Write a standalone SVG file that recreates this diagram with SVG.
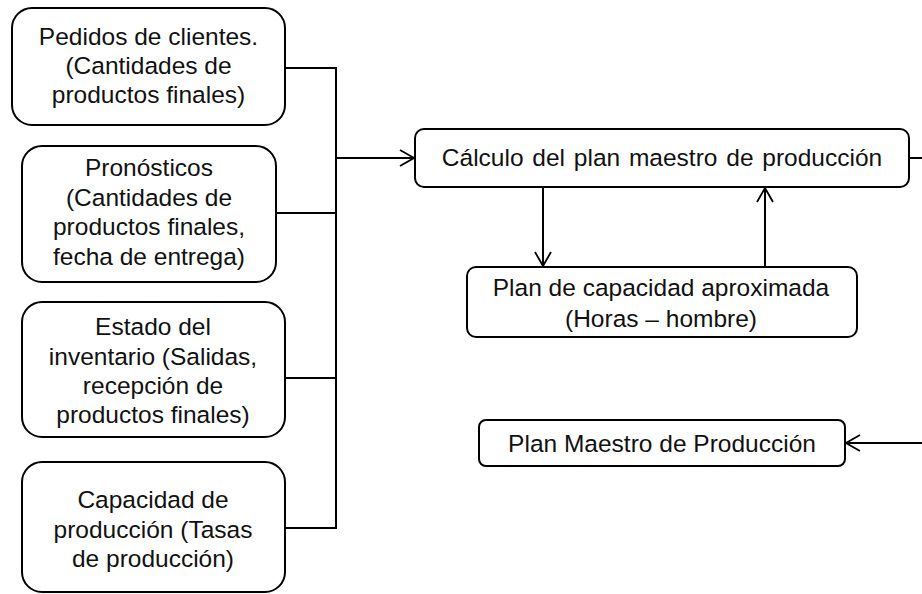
<svg xmlns="http://www.w3.org/2000/svg" width="922" height="594" viewBox="0 0 922 594">
<style>
.box{fill:#fff;stroke:#000;stroke-width:2}
.t{font-family:"Liberation Sans",Arial,sans-serif;font-size:24.5px;fill:#111;text-anchor:middle}
.c{fill:none;stroke:#000;stroke-width:2}
</style>
<defs>
<marker id="arr" viewBox="0 0 16 18" refX="15" refY="9" markerWidth="16" markerHeight="18" orient="auto" markerUnits="userSpaceOnUse">
<path d="M1,1 L15,9 L1,17" fill="none" stroke="#000" stroke-width="1.8"/>
</marker>
</defs>
<rect width="922" height="594" fill="#fff"/>
<g id="connectors">
<path class="c" d="M285,68 H336 M276,213 H336 M285,378 H336 M285,528 H336 M336,67 V529"/>
<path class="c" d="M336,158 H414" marker-end="url(#arr)"/>
<path class="c" d="M543,187 V266" marker-end="url(#arr)"/>
<path class="c" d="M765,267 V188" marker-end="url(#arr)"/>
<path class="c" d="M909,158 H930 V443 H846" marker-end="url(#arr)"/>
</g>
<g id="n1">
<rect class="box" x="12" y="8" width="273" height="117" rx="20"/>
<text class="t" x="148.5" y="44.5">Pedidos de clientes.</text>
<text class="t" x="148.5" y="74">(Cantidades de</text>
<text class="t" x="148.5" y="103">productos finales)</text>
</g>
<g id="n2">
<rect class="box" x="22" y="146" width="254" height="136" rx="20"/>
<text class="t" x="149" y="176">Pronósticos</text>
<text class="t" x="149" y="205.5">(Cantidades de</text>
<text class="t" x="149" y="235">productos finales,</text>
<text class="t" x="149" y="264.5">fecha de entrega)</text>
</g>
<g id="n3">
<rect class="box" x="22" y="302" width="263" height="135" rx="20"/>
<text class="t" x="153" y="335">Estado del</text>
<text class="t" x="153" y="364.5">inventario (Salidas,</text>
<text class="t" x="153" y="394">recepción de</text>
<text class="t" x="153" y="423">productos finales)</text>
</g>
<g id="n4">
<rect class="box" x="22" y="462" width="263" height="130" rx="20"/>
<text class="t" x="153" y="508">Capacidad de</text>
<text class="t" x="153" y="537.5">producción (Tasas</text>
<text class="t" x="153" y="567">de producción)</text>
</g>
<g id="calc">
<rect class="box" x="415" y="129" width="494" height="58" rx="9"/>
<text class="t" x="662" y="166" word-spacing="2">Cálculo del plan maestro de producción</text>
</g>
<g id="cap">
<rect class="box" x="467" y="267" width="390" height="70" rx="9"/>
<text class="t" x="661" y="296">Plan de capacidad aproximada</text>
<text class="t" x="661" y="327">(Horas – hombre)</text>
</g>
<g id="pmp">
<rect class="box" x="479" y="420" width="366" height="46" rx="7"/>
<text class="t" x="662" y="452">Plan Maestro de Producción</text>
</g>
</svg>
